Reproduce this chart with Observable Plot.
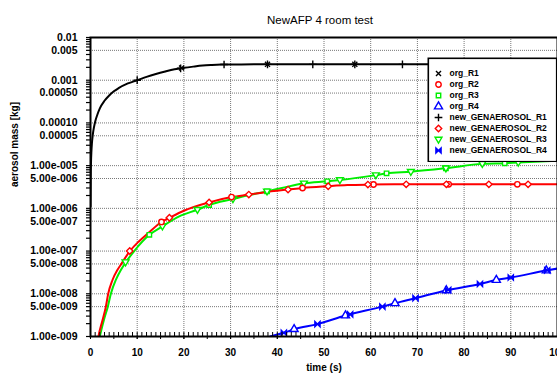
<!DOCTYPE html>
<html><head><meta charset="utf-8">
<script src="https://cdn.jsdelivr.net/npm/d3@7"></script>
<script src="https://cdn.jsdelivr.net/npm/@observablehq/plot@0.6"></script>
<style>
body{margin:0;background:#fff;}
#wrap{position:relative;width:557px;height:377px;overflow:hidden;}
#legend{position:absolute;left:427px;top:57px;}
</style></head><body><div id="wrap"></div><div id="err"></div>
<script>
// ---- text ----
const title = "NewAFP 4 room test";
const xLabel = "time (s)";
const yLabel = "aerosol mass [kg]";

// ---- ticks ----
const xTicks = [0, 10, 20, 30, 40, 50, 60, 70, 80, 90, 100];
const yTicks = [1e-2, 5e-3, 1e-3, 5e-4, 1e-4, 5e-5, 1e-5, 5e-6, 1e-6, 5e-7, 1e-7, 5e-8, 1e-8, 5e-9, 1e-9];
const yTickLabels = ["0.01", "0.005", "0.001", "0.00050", "0.00010", "0.00005",
  "1.00e-005", "5.00e-006", "1.00e-006", "5.00e-007", "1.00e-007", "5.00e-008",
  "1.00e-008", "5.00e-009", "1.00e-009"];

// ---- series: curves (time, mass) ----
const r1T = [0.01, 0.05, 0.1, 0.2, 0.3, 0.5, 0.75, 1, 1.5, 2, 3, 4, 5, 6, 8, 10, 12, 14, 16, 18, 20, 22, 24, 26, 28, 30, 35, 40, 50, 60, 70, 80, 90, 100];
const r1M = [1.1e-6, 5.5e-6, 1.1e-5, 2.2e-5, 3.3e-5, 5.4e-5, 8e-5, 1.07e-4, 1.6e-4, 2.2e-4, 3.3e-4, 4.4e-4, 5.5e-4, 6.5e-4, 8.4e-4, 1.0e-3, 1.2e-3, 1.4e-3, 1.6e-3, 1.8e-3, 1.95e-3, 2.08e-3, 2.2e-3, 2.27e-3, 2.32e-3, 2.34e-3, 2.35e-3, 2.35e-3, 2.35e-3, 2.35e-3, 2.35e-3, 2.35e-3, 2.35e-3, 2.35e-3];

const r2T = [1.3, 1.71, 2.57, 3.29, 3.79, 4.71, 5.79, 6.6, 8.43, 10.4, 12.3, 15.2, 16.9, 20, 25.4, 30.2, 33.9, 38.2, 42.3, 45.4, 50.9, 55, 59.4, 65, 70, 80, 90, 100];
const r2M = [5e-10, 1e-9, 2.4e-9, 5e-9, 1e-8, 2.1e-8, 3.65e-8, 5e-8, 1e-7, 1.7e-7, 2.6e-7, 4.8e-7, 6e-7, 8.8e-7, 1.38e-6, 1.84e-6, 2.1e-6, 2.46e-6, 2.75e-6, 3.0e-6, 3.3e-6, 3.5e-6, 3.6e-6, 3.65e-6, 3.65e-6, 3.65e-6, 3.65e-6, 3.65e-6];

const r3T = [1.6, 2.0, 2.9, 3.71, 4.36, 5.5, 6.5, 7.57, 9.36, 12.6, 15.4, 19, 22.9, 25.4, 30.5, 34, 37.8, 41, 45.7, 50.7, 53.4, 61.1, 63.4, 68.6, 76.1, 83.9, 88.7, 91.6, 100];
const r3M = [6e-10, 1e-9, 2.5e-9, 5e-9, 1e-8, 2.2e-8, 3.6e-8, 5.5e-8, 1e-7, 2.4e-7, 3.8e-7, 6.5e-7, 9.3e-7, 1.2e-6, 1.65e-6, 2.05e-6, 2.5e-6, 3.0e-6, 3.85e-6, 4.3e-6, 4.6e-6, 6.0e-6, 6.6e-6, 7.2e-6, 8.7e-6, 1.1e-5, 1.14e-5, 1.18e-5, 1.3e-5];

const r4T = [36, 38.5, 41.4, 43.6, 48.6, 54.6, 62.5, 65.2, 69.6, 76.2, 83.4, 86.9, 90, 97.6, 100];
const r4M = [7e-10, 1e-9, 1.22e-9, 1.48e-9, 1.95e-9, 3.1e-9, 5e-9, 6e-9, 7.9e-9, 1.2e-8, 1.7e-8, 2.1e-8, 2.4e-8, 3.5e-8, 3.9e-8];

// ---- series: markers ----
const orgR1T = [19.5, 37.9, 56.6, 75.3, 94];
const orgR1M = [1.92e-3, 2.35e-3, 2.35e-3, 2.35e-3, 2.35e-3];
const newR1T = [10, 19.3, 28.6, 37.9, 47.6, 56.6, 66.8, 76.2, 85.6, 95];
const newR1M = [1.0e-3, 1.9e-3, 2.33e-3, 2.35e-3, 2.35e-3, 2.35e-3, 2.35e-3, 2.35e-3, 2.35e-3, 2.35e-3];

const orgR2T = [15.2, 30.2, 45.4, 60.6, 76.7, 91.4];
const orgR2M = [4.8e-7, 1.84e-6, 3.0e-6, 3.62e-6, 3.65e-6, 3.65e-6];
const newR2T = [8.4, 16.9, 25.4, 33.9, 42.3, 50.9, 59.4, 67.6, 76.2, 85.3, 93.7];
const newR2M = [1e-7, 6e-7, 1.38e-6, 2.1e-6, 2.75e-6, 3.3e-6, 3.6e-6, 3.65e-6, 3.65e-6, 3.65e-6, 3.65e-6];

const orgR3T = [12.6, 25.4, 37.8, 50.7, 63.4, 76.1, 88.7];
const orgR3M = [2.4e-7, 1.2e-6, 2.5e-6, 4.3e-6, 6.6e-6, 8.7e-6, 1.14e-5];
const newR3T = [7.5, 15.4, 22.9, 30.5, 37.8, 45.7, 53.4, 61.1, 68.6, 76.1, 83.9, 91.6];
const newR3M = [5.5e-8, 3.8e-7, 9.3e-7, 1.65e-6, 2.5e-6, 3.85e-6, 4.6e-6, 6.0e-6, 7.2e-6, 8.7e-6, 1.1e-5, 1.18e-5];

const orgR4T = [43.6, 54.6, 65.2, 76.2, 86.9, 97.6];
const orgR4M = [1.48e-9, 3.1e-9, 6e-9, 1.2e-8, 2.1e-8, 3.5e-8];
const newR4T = [41.4, 48.6, 55.6, 62.5, 69.6, 76.6, 83.4, 90, 97.8];
const newR4M = [1.22e-9, 1.95e-9, 3.3e-9, 5e-9, 7.9e-9, 1.23e-8, 1.7e-8, 2.4e-8, 3.55e-8];

const legendNames = ["org_R1", "org_R2", "org_R3", "org_R4",
  "new_GENAEROSOL_R1", "new_GENAEROSOL_R2", "new_GENAEROSOL_R3", "new_GENAEROSOL_R4"];

try {
  const zip = (T, M) => T.map((t, i) => ({t, m: M[i]}));
  const triDown = {draw(ctx, size) { const r = Math.sqrt(size / Math.PI);
    ctx.moveTo(-r * 1.15, -r * 0.75); ctx.lineTo(r * 1.15, -r * 0.75); ctx.lineTo(0, r * 1.2); ctx.closePath(); }};
  const bowtie = {draw(ctx, size) { const r = Math.sqrt(size / Math.PI);
    ctx.moveTo(-r, -r); ctx.lineTo(-r, r); ctx.lineTo(r, -r); ctx.lineTo(r, r); ctx.closePath(); }};

  const styles = {
    "org_R1": {symbol: "times", stroke: "black", fill: "none", r: 2.4},
    "org_R2": {symbol: "circle", stroke: "red", fill: "white", r: 2.7},
    "org_R3": {symbol: "square", stroke: "#00ee00", fill: "white", r: 2.5},
    "org_R4": {symbol: "triangle", stroke: "blue", fill: "white", r: 3},
    "new_GENAEROSOL_R1": {symbol: "plus", stroke: "black", fill: "none", r: 2.6},
    "new_GENAEROSOL_R2": {symbol: "diamond2", stroke: "red", fill: "white", r: 2.9},
    "new_GENAEROSOL_R3": {symbol: triDown, stroke: "#00ee00", fill: "white", r: 3},
    "new_GENAEROSOL_R4": {symbol: bowtie, stroke: "blue", fill: "blue", r: 2.6}
  };
  const markerData = {
    "org_R1": zip(orgR1T, orgR1M), "new_GENAEROSOL_R1": zip(newR1T, newR1M),
    "org_R2": zip(orgR2T, orgR2M), "new_GENAEROSOL_R2": zip(newR2T, newR2M),
    "org_R3": zip(orgR3T, orgR3M), "new_GENAEROSOL_R3": zip(newR3T, newR3M),
    "org_R4": zip(orgR4T, orgR4M), "new_GENAEROSOL_R4": zip(newR4T, newR4M)
  };

  const yAllTicks = [];
  for (let k = -9; k <= -3; k++) for (let j = 1; j <= 9; j++) yAllTicks.push(+(j * Math.pow(10, k)).toPrecision(3));
  yAllTicks.push(1e-2);
  const x5 = d3.range(0, 101, 5);
  const x1 = d3.range(0, 101, 1);
  const gridStyle = {stroke: "#777", strokeOpacity: 1, strokeDasharray: "1,1", strokeWidth: 1};
  const lineOpts = {x: "t", y: "m", curve: "monotone-x", strokeWidth: 2, clip: true};

  const marks = [
    Plot.ruleX(xTicks, {x: d => d, ...gridStyle}),
    Plot.ruleY(yTicks, {y: d => d, ...gridStyle}),
    Plot.line(zip(r1T, r1M), {...lineOpts, stroke: "black"}),
    Plot.line(zip(r3T, r3M), {...lineOpts, stroke: "#00ee00"}),
    Plot.line(zip(r2T, r2M), {...lineOpts, stroke: "red"}),
    Plot.line(zip(r4T, r4M), {...lineOpts, stroke: "blue"}),
  ];
  const order = ["org_R3", "new_GENAEROSOL_R3", "org_R2", "new_GENAEROSOL_R2", "org_R4", "new_GENAEROSOL_R4", "org_R1", "new_GENAEROSOL_R1"];
  for (const k of order) {
    const s = styles[k];
    marks.push(Plot.dot(markerData[k], {x: "t", y: "m", symbol: s.symbol, stroke: s.stroke, fill: s.fill, r: s.r, strokeWidth: 1.4, clip: true}));
  }
  marks.push(
    Plot.frame({stroke: "black", strokeWidth: 2}),
    Plot.axisY(yAllTicks, {tickSize: 4, tickFormat: () => "", label: null, strokeWidth: 1.2}),
    Plot.text(yTicks, {y: d => d, text: (d, i) => yTickLabels[i], frameAnchor: "left", dx: -13, textAnchor: "end", fontSize: 10.5, fontWeight: "bold"}),
    Plot.axisX(xTicks, {tickSize: 3, tickPadding: 9, tickFormat: d => String(d), label: null, fontSize: 10, fontWeight: "bold"}),
    Plot.axisX(x5, {tickSize: 3, tickFormat: () => "", label: null}),
    Plot.axisX(x1, {tickSize: -4, tickFormat: () => "", label: null}),
    Plot.text([title], {text: d => d, frameAnchor: "top", dy: -22, dx: -4, fontSize: 11.5, fontWeight: "normal"}),
    Plot.text([xLabel], {text: d => d, frameAnchor: "bottom", dy: 34, fontSize: 10, fontWeight: "bold"}),
    Plot.text([yLabel], {text: d => d, frameAnchor: "left", dx: -76, rotate: -90, fontSize: 10, fontWeight: "bold"})
  );

  const chart = Plot.plot({
    width: 557, height: 377,
    marginLeft: 90, marginRight: 0, marginTop: 37, marginBottom: 41,
    style: {fontFamily: "'Liberation Sans', Arial, sans-serif", background: "white", color: "black"},
    x: {domain: [0, 100]},
    y: {type: "log", domain: [1e-9, 1e-2]},
    marks
  });
  document.getElementById("wrap").appendChild(chart);

  const legMarks = [Plot.frame({fill: "white", stroke: "black", strokeWidth: 1.6, inset: 0.8})];
  for (const k of legendNames) {
    const s = styles[k];
    legMarks.push(Plot.dot([k], {y: d => d, frameAnchor: "left", dx: 11, symbol: s.symbol, stroke: s.stroke, fill: s.fill, r: s.r, strokeWidth: 1.4}));
  }
  legMarks.push(Plot.text(legendNames, {y: d => d, text: d => d, frameAnchor: "left", dx: 22, textAnchor: "start", fontSize: 8.5, fontWeight: "bold"}));
  const legend = Plot.plot({
    width: 130, height: 105, margin: 0,
    style: {fontFamily: "'Liberation Sans', Arial, sans-serif", background: "transparent", color: "black"},
    y: {type: "point", domain: legendNames, range: [13, 95.5], padding: 0, axis: null},
    marks: legMarks
  });
  legend.id = "legend";
  document.getElementById("wrap").appendChild(legend);
} catch (e) {
  document.getElementById("err").textContent = e.stack;
}
</script></body></html>
